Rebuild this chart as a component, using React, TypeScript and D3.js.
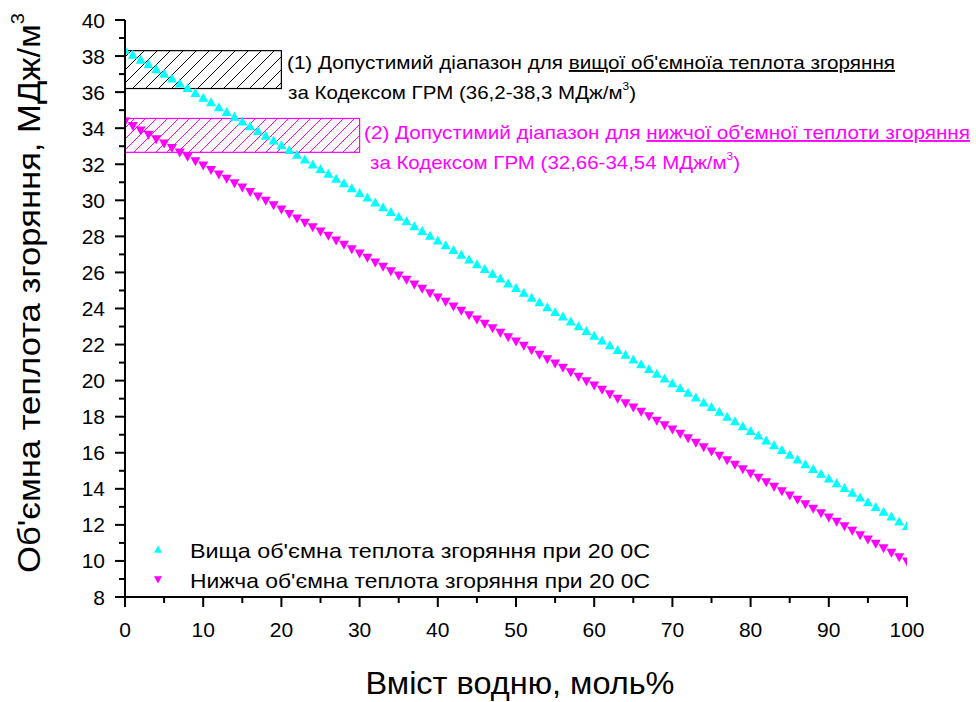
import * as d3 from "d3";

// hydrogen content, mol%
const hydrogen = [
  0, 1, 2, 3, 4, 5, 6, 7, 8, 9, 10, 11, 12, 13, 14, 15, 16, 17, 18, 19, 20,
  21, 22, 23, 24, 25, 26, 27, 28, 29, 30, 31, 32, 33, 34, 35, 36, 37, 38, 39, 40,
  41, 42, 43, 44, 45, 46, 47, 48, 49, 50, 51, 52, 53, 54, 55, 56, 57, 58, 59, 60,
  61, 62, 63, 64, 65, 66, 67, 68, 69, 70, 71, 72, 73, 74, 75, 76, 77, 78, 79, 80,
  81, 82, 83, 84, 85, 86, 87, 88, 89, 90, 91, 92, 93, 94, 95, 96, 97, 98, 99, 100,
];

// higher volumetric heat of combustion at 20 C, MJ/m3
const higherHeat = [
  38.30, 38.04, 37.77, 37.51, 37.24, 36.98, 36.72, 36.45, 36.19, 35.92, 35.66,
  35.40, 35.13, 34.87, 34.60, 34.34, 34.08, 33.81, 33.55, 33.28, 33.02,
  32.76, 32.49, 32.23, 31.96, 31.70, 31.44, 31.17, 30.91, 30.64, 30.38,
  30.12, 29.85, 29.59, 29.32, 29.06, 28.80, 28.53, 28.27, 28.00, 27.74,
  27.48, 27.21, 26.95, 26.68, 26.42, 26.16, 25.89, 25.63, 25.36, 25.10,
  24.84, 24.57, 24.31, 24.04, 23.78, 23.52, 23.25, 22.99, 22.72, 22.46,
  22.20, 21.93, 21.67, 21.40, 21.14, 20.88, 20.61, 20.35, 20.08, 19.82,
  19.56, 19.29, 19.03, 18.76, 18.50, 18.24, 17.97, 17.71, 17.44, 17.18,
  16.92, 16.65, 16.39, 16.12, 15.86, 15.60, 15.33, 15.07, 14.80, 14.54,
  14.28, 14.01, 13.75, 13.48, 13.22, 12.96, 12.69, 12.43, 12.16, 11.90,
];

// lower volumetric heat of combustion at 20 C, MJ/m3
const lowerHeat = [
  34.40, 34.16, 33.91, 33.67, 33.42, 33.18, 32.94, 32.69, 32.45, 32.20, 31.96,
  31.72, 31.47, 31.23, 30.98, 30.74, 30.50, 30.25, 30.01, 29.76, 29.52,
  29.28, 29.03, 28.79, 28.54, 28.30, 28.06, 27.81, 27.57, 27.32, 27.08,
  26.84, 26.59, 26.35, 26.10, 25.86, 25.62, 25.37, 25.13, 24.88, 24.64,
  24.40, 24.15, 23.91, 23.66, 23.42, 23.18, 22.93, 22.69, 22.44, 22.20,
  21.96, 21.71, 21.47, 21.22, 20.98, 20.74, 20.49, 20.25, 20.00, 19.76,
  19.52, 19.27, 19.03, 18.78, 18.54, 18.30, 18.05, 17.81, 17.56, 17.32,
  17.08, 16.83, 16.59, 16.34, 16.10, 15.86, 15.61, 15.37, 15.12, 14.88,
  14.64, 14.39, 14.15, 13.90, 13.66, 13.42, 13.17, 12.93, 12.68, 12.44,
  12.20, 11.95, 11.71, 11.46, 11.22, 10.98, 10.73, 10.49, 10.24, 10.00,
];

// allowed ranges (Gas Distribution Network Code)
const higherRange = { x0: 0, x1: 20, lo: 36.2, hi: 38.3 };
const lowerRange = { x0: 0, x1: 30, lo: 32.66, hi: 34.54 };

const xTicks = [0, 10, 20, 30, 40, 50, 60, 70, 80, 90, 100];
const yTicks = [8, 10, 12, 14, 16, 18, 20, 22, 24, 26, 28, 30, 32, 34, 36, 38, 40];

const W = 976;
const H = 702;
const FONT = "'Liberation Sans', Arial, sans-serif";
const CYAN = "#00ffff";
const MAGENTA = "#ff00ff";

const x = d3.scaleLinear().domain([0, 100]).range([125, 907]);
const y = d3.scaleLinear().domain([8, 40]).range([597, 20]);

const tri = (up: boolean, s: number) => {
  const h = s * 0.9;
  return up
    ? `M0,${-h * 0.62}L${s / 2},${h * 0.38}L${-s / 2},${h * 0.38}Z`
    : `M0,${h * 0.62}L${s / 2},${-h * 0.38}L${-s / 2},${-h * 0.38}Z`;
};

export default function App() {
  const [x0, x1] = x.range();
  const [yB, yT] = y.range();
  const minorX = d3.range(5, 100, 10);
  const minorY = d3.range(9, 40, 2);

  return (
    <div style={{ position: "fixed", left: 0, top: 0, background: "#fff" }}>
      <svg width={W} height={H} style={{ display: "block", fontFamily: FONT }}>
        <defs>
          <clipPath id="plot">
            <rect x={x0} y={yT} width={x1 - x0} height={yB - yT} />
          </clipPath>
          <pattern id="hatchK" patternUnits="userSpaceOnUse" width={13} height={13}>
            <path d="M-2,2L2,-2M0,13L13,0M11,15L15,11" stroke="#000" strokeWidth={1} />
          </pattern>
          <pattern id="hatchM" patternUnits="userSpaceOnUse" width={11} height={11}>
            <path d="M-2,2L2,-2M0,11L11,0M9,13L13,9" stroke={MAGENTA} strokeWidth={1} />
          </pattern>
        </defs>
        <rect width={W} height={H} fill="#fff" />

        {/* allowed ranges */}
        <rect
          x={x(higherRange.x0)} y={y(higherRange.hi)}
          width={x(higherRange.x1) - x(higherRange.x0)} height={y(higherRange.lo) - y(higherRange.hi)}
          fill="url(#hatchK)" stroke="#000" strokeWidth={1.2}
        />
        <rect
          x={x(lowerRange.x0)} y={y(lowerRange.hi)}
          width={x(lowerRange.x1) - x(lowerRange.x0)} height={y(lowerRange.lo) - y(lowerRange.hi)}
          fill="url(#hatchM)" stroke={MAGENTA} strokeWidth={1.2}
        />

        {/* series */}
        <g clipPath="url(#plot)">
          {hydrogen.map((h, i) => (
            <path key={"u" + i} d={tri(true, 10)} transform={`translate(${x(h)},${y(higherHeat[i])})`} fill={CYAN} />
          ))}
          {hydrogen.map((h, i) => (
            <path key={"d" + i} d={tri(false, 10)} transform={`translate(${x(h)},${y(lowerHeat[i])})`} fill={MAGENTA} />
          ))}
        </g>

        {/* axes */}
        <g stroke="#000" strokeWidth={2}>
          <line x1={x0 - 1} x2={x1 + 1} y1={yB} y2={yB} />
          <line x1={x0} x2={x0} y1={yT} y2={yB + 1} />
          {xTicks.map(t => <line key={"xt" + t} x1={x(t)} x2={x(t)} y1={yB} y2={yB + 10} />)}
          {minorX.map(t => <line key={"xm" + t} x1={x(t)} x2={x(t)} y1={yB} y2={yB + 6} />)}
          {yTicks.map(t => <line key={"yt" + t} x1={x0 - 10} x2={x0} y1={y(t)} y2={y(t)} />)}
          {minorY.map(t => <line key={"ym" + t} x1={x0 - 6} x2={x0} y1={y(t)} y2={y(t)} />)}
        </g>
        <g fontSize={21} fill="#000">
          {xTicks.map(t => (
            <text key={"xl" + t} x={x(t)} y={637} textAnchor="middle">{t}</text>
          ))}
          {yTicks.map(t => (
            <text key={"yl" + t} x={105} y={y(t) + 7.5} textAnchor="end">{t}</text>
          ))}
        </g>

        {/* axis titles */}
        <text x={520} y={694} textAnchor="middle" fontSize={31} textLength={309} lengthAdjust="spacingAndGlyphs">
          Вміст водню, моль%
        </text>
        <text transform="translate(40,293) rotate(-90)" textAnchor="middle" fontSize={31}
          textLength={560} lengthAdjust="spacingAndGlyphs">
          Об'ємна теплота згоряння, МДж/м<tspan fontSize={18} dy={-16}>3</tspan>
        </text>

        {/* annotations */}
        <g fontSize={19}>
          <text x={287} y={69} textLength={608} lengthAdjust="spacingAndGlyphs">
            (1) Допустимий діапазон для <tspan style={{ textDecoration: "underline" }}>вищої об'ємноїа теплота згоряння</tspan>
          </text>
          <text x={288} y={99} textLength={348} lengthAdjust="spacingAndGlyphs">
            за Кодексом ГРМ (36,2-38,3 МДж/м<tspan fontSize={11} dy={-9}>3</tspan><tspan dy={9}>)</tspan>
          </text>
          <text x={364} y={139} fill={MAGENTA} textLength={606} lengthAdjust="spacingAndGlyphs">
            (2) Допустимий діапазон для <tspan style={{ textDecoration: "underline" }}>нижчої об'ємної теплоти згоряння</tspan>
          </text>
          <text x={370} y={169} fill={MAGENTA} textLength={370} lengthAdjust="spacingAndGlyphs">
            за Кодексом ГРМ (32,66-34,54 МДж/м<tspan fontSize={11} dy={-9}>3</tspan><tspan dy={9}>)</tspan>
          </text>
        </g>

        {/* legend */}
        <path d={tri(true, 8)} transform="translate(158,550)" fill={CYAN} />
        <path d={tri(false, 8)} transform="translate(158,579)" fill={MAGENTA} />
        <g fontSize={21}>
          <text x={190} y={558} textLength={460} lengthAdjust="spacingAndGlyphs">Вища об'ємна теплота згоряння при 20 0С</text>
          <text x={190} y={588} textLength={460} lengthAdjust="spacingAndGlyphs">Нижча об'ємна теплота згоряння при 20 0С</text>
        </g>
      </svg>
    </div>
  );
}
